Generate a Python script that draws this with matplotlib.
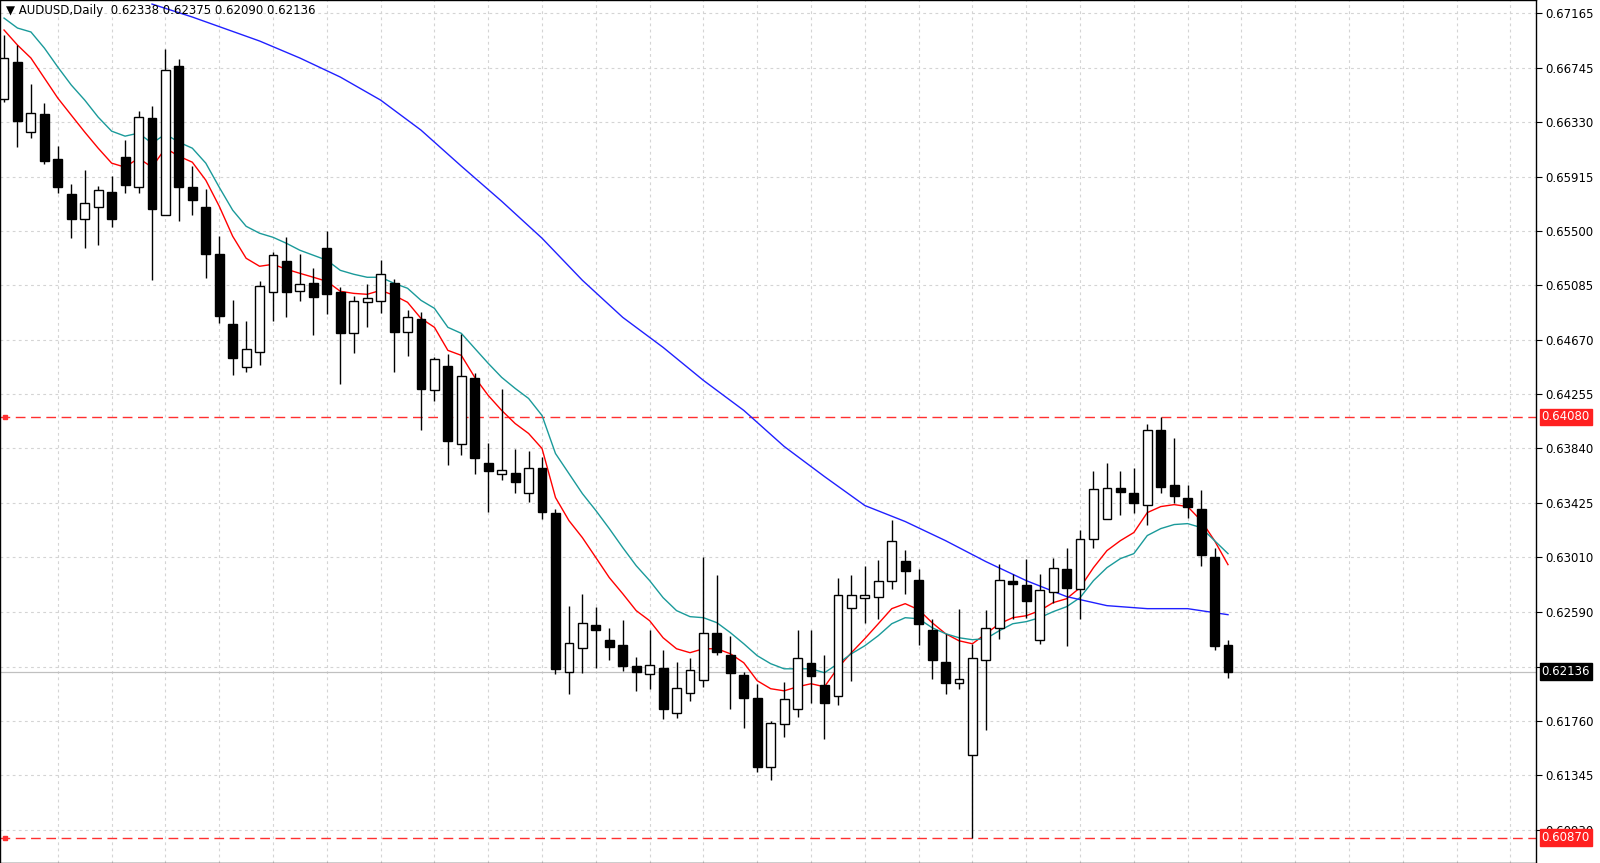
import matplotlib
matplotlib.use("Agg")
import matplotlib.pyplot as plt
import numpy as np

opens = [0.66506,0.66788,0.66254,0.66391,0.66047,0.65780,0.65589,0.65681,0.65795,0.66063,
0.65833,0.66360,0.65619,0.66758,0.65833,0.65681,0.65321,0.64787,0.64458,0.64573,
0.65031,0.65268,0.65039,0.65100,0.65367,0.65031,0.64718,0.64955,0.64962,0.65100,
0.64726,0.64825,0.64282,0.64466,0.63870,0.64374,0.63725,0.63648,0.63656,0.63503,
0.63694,0.63350,0.62136,0.62319,0.62495,0.62380,0.62342,0.62181,0.62120,0.62166,
0.61822,0.61975,0.62074,0.62434,0.62265,0.62113,0.61937,0.61410,0.61738,0.61853,
0.62204,0.62036,0.61952,0.62625,0.62701,0.62709,0.62831,0.62984,0.62838,0.62456,
0.62212,0.62052,0.61501,0.62227,0.62472,0.62831,0.62800,0.62380,0.62747,0.62922,
0.62770,0.63152,0.63304,0.63541,0.63503,0.63411,0.63984,0.63564,0.63465,0.63381,
0.63014,0.62338]
highs = [0.66995,0.66918,0.66620,0.66475,0.66147,0.65856,0.65963,0.65841,0.65917,0.66192,
0.66414,0.66452,0.66888,0.66811,0.65994,0.65818,0.65459,0.64970,0.64810,0.65115,
0.65337,0.65451,0.65321,0.65214,0.65497,0.65069,0.65001,0.65092,0.65276,0.65130,
0.64894,0.64878,0.64535,0.64557,0.64710,0.64412,0.63885,0.64290,0.63832,0.63824,
0.63771,0.63381,0.62640,0.62731,0.62632,0.62472,0.62533,0.62250,0.62456,0.62304,
0.62212,0.62243,0.63014,0.62877,0.62411,0.62136,0.62044,0.61761,0.62059,0.62456,
0.62456,0.62265,0.62854,0.62877,0.62945,0.62991,0.63297,0.63068,0.62922,0.62540,
0.62426,0.62617,0.62349,0.62609,0.62961,0.62884,0.62999,0.62884,0.63007,0.63083,
0.63220,0.63664,0.63732,0.63664,0.63694,0.64030,0.64080,0.63916,0.63557,0.63526,
0.63083,0.62375]
lows = [0.66483,0.66139,0.66208,0.66009,0.65787,0.65444,0.65367,0.65390,0.65528,0.65787,
0.65787,0.65123,0.65619,0.65574,0.65619,0.65138,0.64794,0.64397,0.64420,0.64473,
0.64810,0.64840,0.64962,0.64703,0.64863,0.64328,0.64565,0.64764,0.64871,0.64420,
0.64542,0.63984,0.64198,0.63717,0.63786,0.63648,0.63358,0.63602,0.63503,0.63434,
0.63304,0.62120,0.61967,0.62128,0.62166,0.62227,0.62143,0.61990,0.62006,0.61776,
0.61784,0.61914,0.62021,0.62265,0.61853,0.61708,0.61372,0.61310,0.61639,0.61792,
0.61899,0.61624,0.61883,0.62067,0.62510,0.62540,0.62770,0.62731,0.62342,0.62082,
0.61967,0.62006,0.60870,0.61692,0.62388,0.62540,0.62548,0.62349,0.62663,0.62334,
0.62540,0.63083,0.63304,0.63335,0.63350,0.63259,0.63503,0.63427,0.63312,0.62945,
0.62304,0.62090]
closes = [0.66819,0.66338,0.66399,0.66032,0.65833,0.65589,0.65711,0.65810,0.65589,0.65849,
0.66368,0.65665,0.66727,0.65833,0.65734,0.65321,0.64848,0.64527,0.64596,0.65077,
0.65314,0.65031,0.65092,0.64993,0.65016,0.64718,0.64962,0.64985,0.65169,0.64726,
0.64840,0.64290,0.64519,0.63893,0.64389,0.63763,0.63671,0.63679,0.63580,0.63694,
0.63358,0.62158,0.62357,0.62510,0.62456,0.62327,0.62181,0.62136,0.62189,0.61853,
0.62013,0.62151,0.62434,0.62288,0.62128,0.61937,0.61410,0.61746,0.61929,0.62243,
0.62105,0.61899,0.62724,0.62724,0.62724,0.62831,0.63136,0.62907,0.62502,0.62227,
0.62052,0.62082,0.62243,0.62472,0.62838,0.62808,0.62678,0.62762,0.62930,0.62777,
0.63152,0.63534,0.63541,0.63511,0.63427,0.63984,0.63549,0.63473,0.63396,0.63029,
0.62334,0.62136]

ma_red = [0.67033,0.66918,0.66819,0.66666,0.66513,0.66383,0.66254,0.66131,0.66017,0.65986,
0.66055,0.65986,0.66131,0.66070,0.66024,0.65887,0.65688,0.65459,0.65291,0.65230,
0.65245,0.65207,0.65176,0.65146,0.65115,0.65039,0.65023,0.65016,0.65046,0.65008,
0.64955,0.64832,0.64764,0.64588,0.64550,0.64382,0.64244,0.64130,0.64030,0.63954,
0.63839,0.63465,0.63289,0.63159,0.63007,0.62854,0.62731,0.62602,0.62525,0.62395,
0.62311,0.62281,0.62311,0.62311,0.62273,0.62204,0.62067,0.62006,0.61990,0.62021,
0.62044,0.62021,0.62166,0.62281,0.62388,0.62502,0.62617,0.62655,0.62609,0.62510,
0.62426,0.62372,0.62349,0.62426,0.62502,0.62548,0.62563,0.62602,0.62663,0.62693,
0.62777,0.62930,0.63060,0.63136,0.63198,0.63350,0.63396,0.63411,0.63396,0.63289,
0.63136,0.62953]
ma_teal = [0.67124,0.67048,0.67018,0.66895,0.66750,0.66613,0.66498,0.66368,0.66261,0.66223,
0.66246,0.66169,0.66238,0.66177,0.66131,0.66017,0.65833,0.65658,0.65535,0.65482,
0.65451,0.65405,0.65352,0.65314,0.65276,0.65199,0.65169,0.65146,0.65146,0.65100,
0.65062,0.64970,0.64909,0.64764,0.64718,0.64603,0.64489,0.64382,0.64298,0.64221,
0.64091,0.63801,0.63648,0.63495,0.63366,0.63228,0.63083,0.62945,0.62831,0.62701,
0.62602,0.62556,0.62548,0.62510,0.62434,0.62349,0.62258,0.62197,0.62158,0.62158,
0.62158,0.62128,0.62197,0.62273,0.62334,0.62411,0.62502,0.62548,0.62540,0.62472,
0.62426,0.62395,0.62380,0.62388,0.62449,0.62502,0.62518,0.62548,0.62594,0.62632,
0.62701,0.62831,0.62930,0.62999,0.63037,0.63175,0.63228,0.63259,0.63266,0.63236,
0.63136,0.63037]
ma_blue_idx = [11,14,19,22,25,28,31,34,37,40,43,46,49,52,55,58,61,64,67,70,73,76,79,82,85,88,91]
ma_blue = [0.67231,0.67132,0.66949,0.66819,0.66674,0.66498,0.66269,0.65994,0.65726,0.65444,
0.65123,0.64840,0.64611,0.64359,0.64130,0.63855,0.63625,0.63404,0.63282,0.63136,
0.62976,0.62831,0.62709,0.62640,0.62617,0.62617,0.62571]

ticks = [0.60930,0.61345,0.61760,0.62175,0.62590,0.63010,0.63425,0.63840,0.64255,
         0.64670,0.65085,0.65500,0.65915,0.66330,0.66745,0.67165]
level_hi, level_lo, last_price = 0.64080, 0.60870, 0.62136
title = "AUDUSD,Daily  0.62338 0.62375 0.62090 0.62136"

fig = plt.figure(figsize=(16, 8.63), dpi=100)
fig.patch.set_facecolor("white")
ax = fig.add_axes([0.0, 0.0, 0.96, 1.0])
n = len(closes)
x = np.arange(n)
ax.set_xlim(-0.3, 113.9)
ax.set_ylim(0.60676, 0.67262)

for t in ticks:
    ax.axhline(t, color="#d4d4d4", lw=0.8, ls=(0, (2.5, 3)), zorder=0)
for gx in range(4, 114, 4):
    ax.axvline(gx, color="#d4d4d4", lw=0.8, ls=(0, (2.5, 3)), zorder=0)

ax.axhline(last_price, color="#c0c0c0", lw=0.9, zorder=1)
for lv in (level_hi, level_lo):
    ax.axhline(lv, color="#ff3030", lw=1.0, ls=(0, (7, 4)), zorder=1)
    ax.plot([0.003], [lv], marker="s", ms=3, color="#ff3030", zorder=2,
            transform=ax.get_yaxis_transform(), clip_on=False)

ax.plot(x, ma_red, color="#ff0000", lw=1.0, zorder=2)
ax.plot(x, ma_teal, color="#1a9a9a", lw=1.0, zorder=2)
ax.plot(ma_blue_idx, ma_blue, color="#2020ff", lw=1.0, zorder=2)

w = 0.66
for i in range(n):
    o, h, l, c = opens[i], highs[i], lows[i], closes[i]
    ax.vlines(i, l, h, color="black", lw=1.0, zorder=3)
    bull = c >= o
    lo_b, hi_b = min(o, c), max(o, c)
    ax.add_patch(plt.Rectangle((i - w / 2, lo_b), w, max(hi_b - lo_b, 0.00004),
                               facecolor="white" if bull else "black",
                               edgecolor="black", lw=1.0, zorder=4))

ax.yaxis.tick_right()
ax.set_yticks(ticks)
ax.set_yticklabels([f"{t:.5f}" for t in ticks], fontsize=8.5)
ax.tick_params(axis="y", length=4, pad=3, colors="black")
ax.set_xticks(range(4, 114, 4))
ax.set_xticklabels([])
ax.tick_params(axis="x", direction="out", length=4)
for s in ax.spines.values():
    s.set_color("black")
    s.set_linewidth(1.0)

def price_box(p, fc):
    t = ax.annotate(f"{p:.5f}", xy=(1.0, p), xycoords=("axes fraction", "data"),
                    xytext=(4, 0), textcoords="offset points", va="center", ha="left",
                    fontsize=8.5, color="white", zorder=10,
                    bbox=dict(boxstyle="square,pad=0.15", fc=fc, ec=fc))
    t.set_clip_on(False)

price_box(level_hi, "#ff2020")
price_box(level_lo, "#ff2020")
price_box(last_price, "black")

ax.text(0.004, 0.995, "▼ " + title, transform=ax.transAxes, fontsize=8.5,
        va="top", ha="left", color="black")

fig.savefig("out.png", dpi=100)
